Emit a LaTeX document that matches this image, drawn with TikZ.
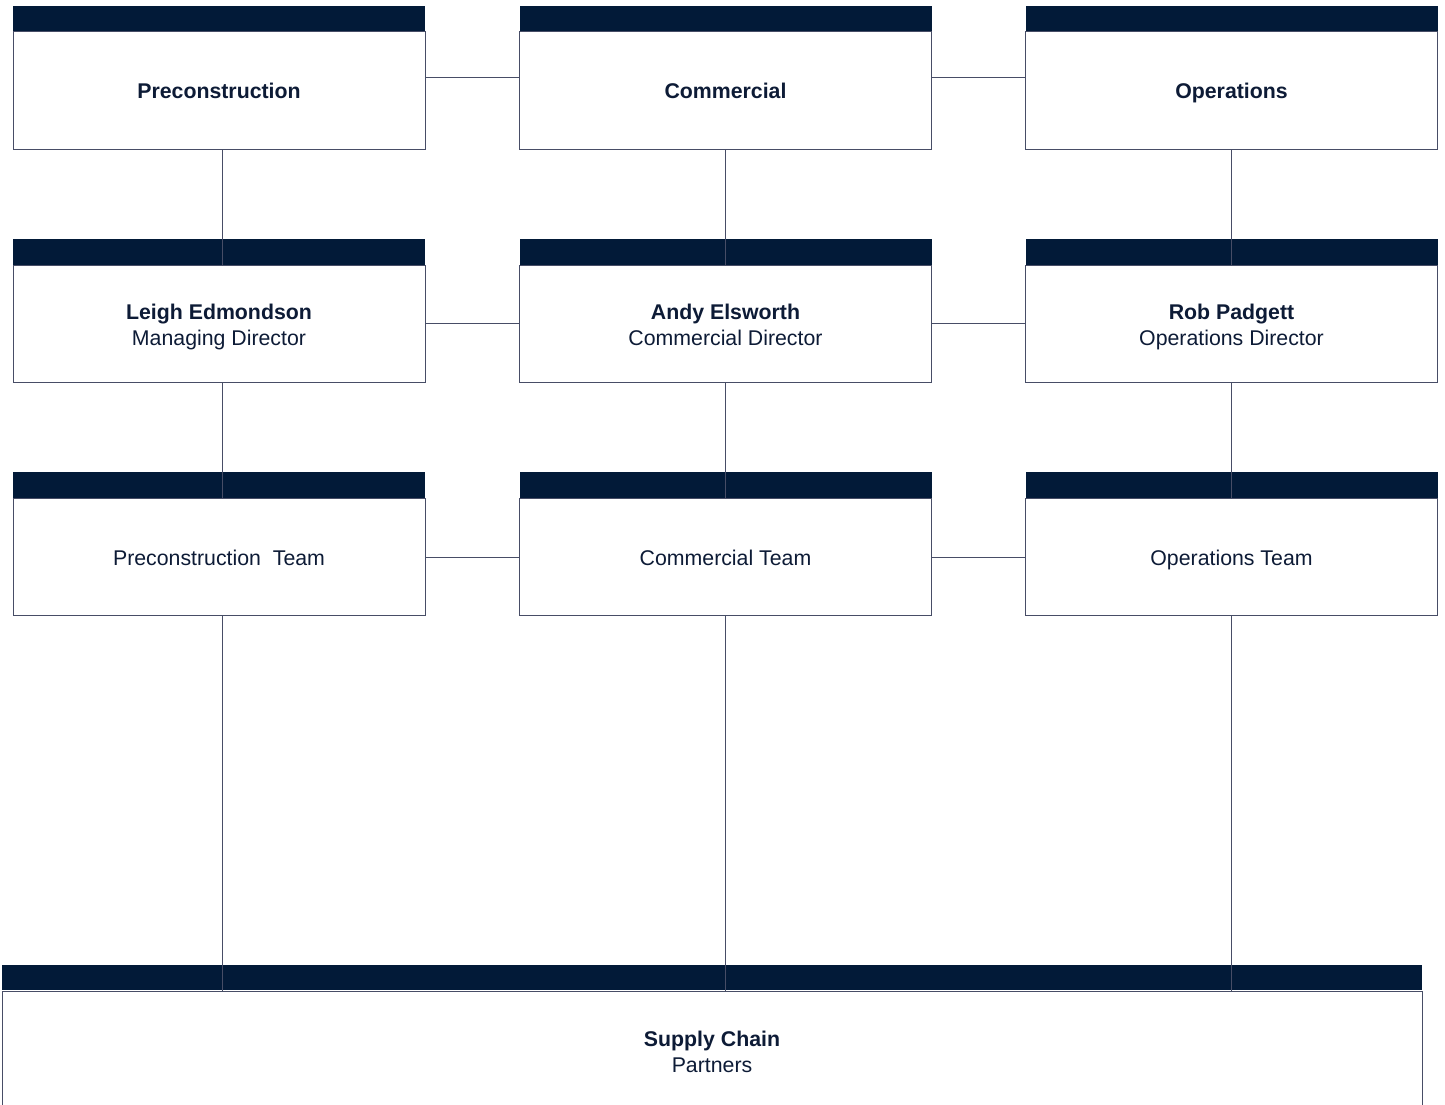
\documentclass[tikz,border=0pt]{standalone}
\usepackage{fontspec}
\setmainfont{Liberation Sans}
\usetikzlibrary{positioning}
\definecolor{navy}{HTML}{021A38}
\definecolor{ink}{HTML}{0D1B36}
\definecolor{edge}{HTML}{474D66}
\tikzset{
    orgbox/.style={draw=edge, fill=white, line width=1pt, minimum width=412pt,
        minimum height=117.5pt, inner sep=0pt, align=center, text=ink,
        font=\fontsize{21.3}{26}\selectfont, text height=16.5pt, text depth=0pt},
    twoline/.style={text height=43pt, text depth=0pt},
    hdrbar/.style={fill=navy, minimum width=412pt, minimum height=25.5pt,
        inner sep=0pt, above=0pt of #1},
    link/.style={draw=edge, line width=1pt}
}
\begin{document}
\begin{tikzpicture}[x=1pt, y=-1pt]
    \useasboundingbox (0,0) rectangle (1445,1104);
    \clip (0,0) rectangle (1445,1104);
    \node[orgbox] (pre) at (219, 90.5) {\textbf{Preconstruction}};
    \node[orgbox] (com) at (725.5, 90.5) {\textbf{Commercial}};
    \node[orgbox] (ops) at (1231.5, 90.5) {\textbf{Operations}};
    \node[orgbox, twoline] (md) at (219, 324) {\textbf{Leigh Edmondson}\\Managing Director};
    \node[orgbox, twoline] (cd) at (725.5, 324) {\textbf{Andy Elsworth}\\Commercial Director};
    \node[orgbox, twoline] (od) at (1231.5, 324) {\textbf{Rob Padgett}\\Operations Director};
    \node[orgbox] (preT) at (219, 557) {Preconstruction~ Team};
    \node[orgbox] (comT) at (725.5, 557) {Commercial Team};
    \node[orgbox] (opsT) at (1231.5, 557) {Operations Team};
    \node[orgbox, twoline, minimum width=1420pt, minimum height=120pt] (sup) at (712, 1051)
        {\textbf{Supply Chain}\\Partners};
    \node[hdrbar=pre] (preH) {};
    \node[hdrbar=com] (comH) {};
    \node[hdrbar=ops] (opsH) {};
    \node[hdrbar=md] (mdH) {};
    \node[hdrbar=cd] (cdH) {};
    \node[hdrbar=od] (odH) {};
    \node[hdrbar=preT] (preTH) {};
    \node[hdrbar=comT] (comTH) {};
    \node[hdrbar=opsT] (opsTH) {};
    \node[hdrbar=sup, minimum width=1420pt] (supH) {};
    \draw[link] ([yshift=13.5pt]pre.east) -- ([yshift=13.5pt]com.west);
    \draw[link] ([yshift=13.5pt]com.east) -- ([yshift=13.5pt]ops.west);
    \draw[link] ([yshift=1pt]md.east) -- ([yshift=1pt]cd.west);
    \draw[link] ([yshift=1pt]cd.east) -- ([yshift=1pt]od.west);
    \draw[link] (preT.east) -- (comT.west);
    \draw[link] (comT.east) -- (opsT.west);
    \draw[link] ([xshift=3pt]pre.south) -- ([xshift=3pt]md.north);
    \draw[link] (com.south) -- (cd.north);
    \draw[link] (ops.south) -- (od.north);
    \draw[link] ([xshift=3pt]md.south) -- ([xshift=3pt]preT.north);
    \draw[link] (cd.south) -- (comT.north);
    \draw[link] (od.south) -- (opsT.north);
    \draw[link] ([xshift=3pt]preT.south) -- ([xshift=3pt]preT.south |- sup.north);
    \draw[link] (comT.south) -- (comT.south |- sup.north);
    \draw[link] (opsT.south) -- (opsT.south |- sup.north);
\end{tikzpicture}
\end{document}
